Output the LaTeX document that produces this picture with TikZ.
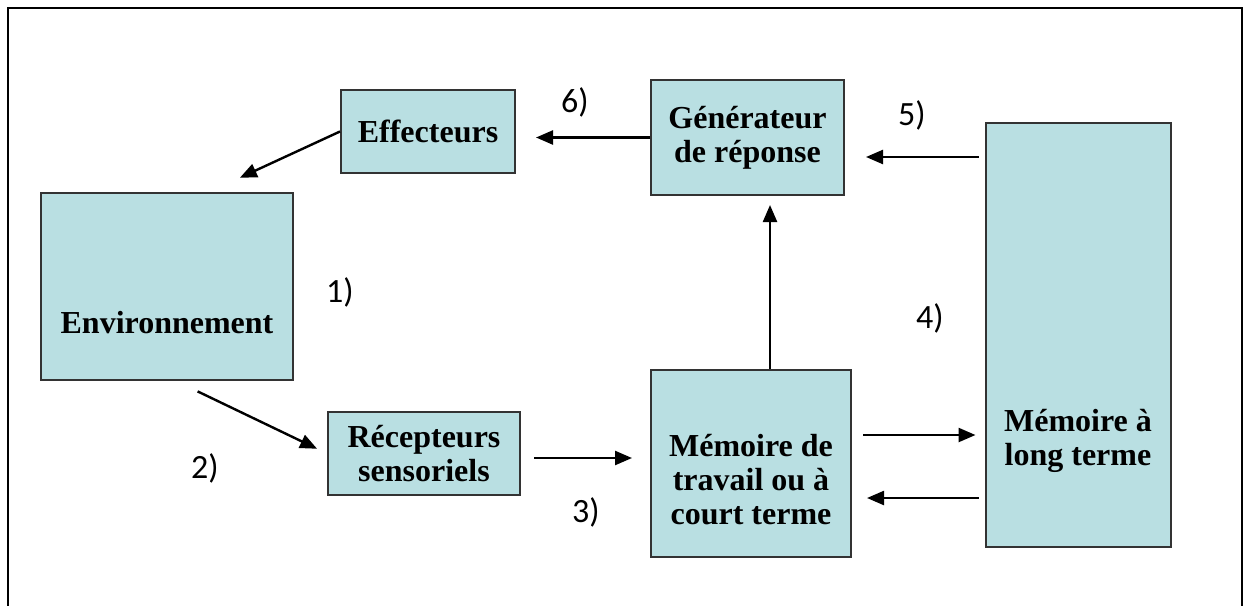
\documentclass[tikz,border=0pt]{standalone}
\usepackage{fontspec}
\setmainfont{Liberation Serif}
\newfontfamily\numfont{Carlito}
\usetikzlibrary{arrows.meta}
\definecolor{boxfill}{HTML}{B9DFE2}

\begin{document}
\begin{tikzpicture}[x=0.5pt, y=-0.5pt,
    block/.style={rectangle, draw=black!80, line width=1pt, fill=boxfill, inner sep=0pt, align=center, font=\bfseries\fontsize{16}{17}\selectfont},
    blocktext/.style={align=center, font=\bfseries\fontsize{16}{17}\selectfont},
    num/.style={font=\numfont\fontsize{17}{20}\selectfont},
    arrow/.style={-{Triangle[length=8.5pt, width=7pt]}, line width=1.2pt}]

\useasboundingbox (0,0) rectangle (1245,605);
\draw[line width=1pt] (8,612) -- (8,8) -- (1242,8) -- (1242,612);

\node[block, minimum width=126pt, minimum height=93.5pt,
      label={[blocktext, yshift=-18pt]center:Environnement}] (env) at (167,286.5) {};
\node[block, minimum width=87pt, minimum height=41.5pt] (eff) at (428,131.5) {Effecteurs};
\node[block, minimum width=96.5pt, minimum height=57.5pt] (gen) at (747.5,137.5) {Générateur\\de réponse};
\node[block, minimum width=96pt, minimum height=41.5pt] (rec) at (424,453.5) {Récepteurs\\sensoriels};
\node[block, minimum width=100pt, minimum height=93.5pt,
      label={[blocktext, yshift=-8pt]center:Mémoire de\\travail ou à\\court terme}] (mdt) at (751,463.5) {};
\node[block, minimum width=92.5pt, minimum height=212pt,
      label={[blocktext, yshift=-53pt]center:Mémoire à\\long terme}] (ltm) at (1078,334.5) {};

\node[num] (n1) at (340,292) {1)};
\node[num] (n2) at (205,468) {2)};
\node[num] (n3) at (586,512) {3)};
\node[num] (n4) at (930,318) {4)};
\node[num] (n5) at (912,115) {5)};
\node[num] (n6) at (575,102) {6)};

\draw[arrow, shorten >=17pt] (eff.west) -- ([xshift=21pt]env.north);
\draw[arrow, shorten <=12pt, shorten >=5.5pt] ([xshift=4.5pt]env.south) -- (rec.west);
\draw[arrow, shorten <=6.5pt, shorten >=9pt] ([yshift=-2.25pt]rec.east) -- ([yshift=-2.25pt]rec.east -| mdt.west);
\draw[arrow, shorten >=4.5pt] ([xshift=9.5pt]mdt.north) -- ([xshift=9.5pt]mdt.north |- gen.south);
\draw[arrow, shorten <=5.5pt, shorten >=4.5pt] ([yshift=14.25pt]mdt.east) -- ([yshift=14.25pt]mdt.east -| ltm.west);
\draw[arrow, shorten <=3pt, shorten >=7.5pt] ([yshift=-81.75pt]ltm.west) -- ([yshift=-81.75pt]ltm.west -| mdt.east);
\draw[arrow, shorten <=3pt, shorten >=10.5pt] ([yshift=88.75pt]ltm.west) -- ([yshift=88.75pt]ltm.west -| gen.east);
\draw[arrow, shorten >=10pt] (gen.west) -- (gen.west -| eff.east);
\end{tikzpicture}
\end{document}
